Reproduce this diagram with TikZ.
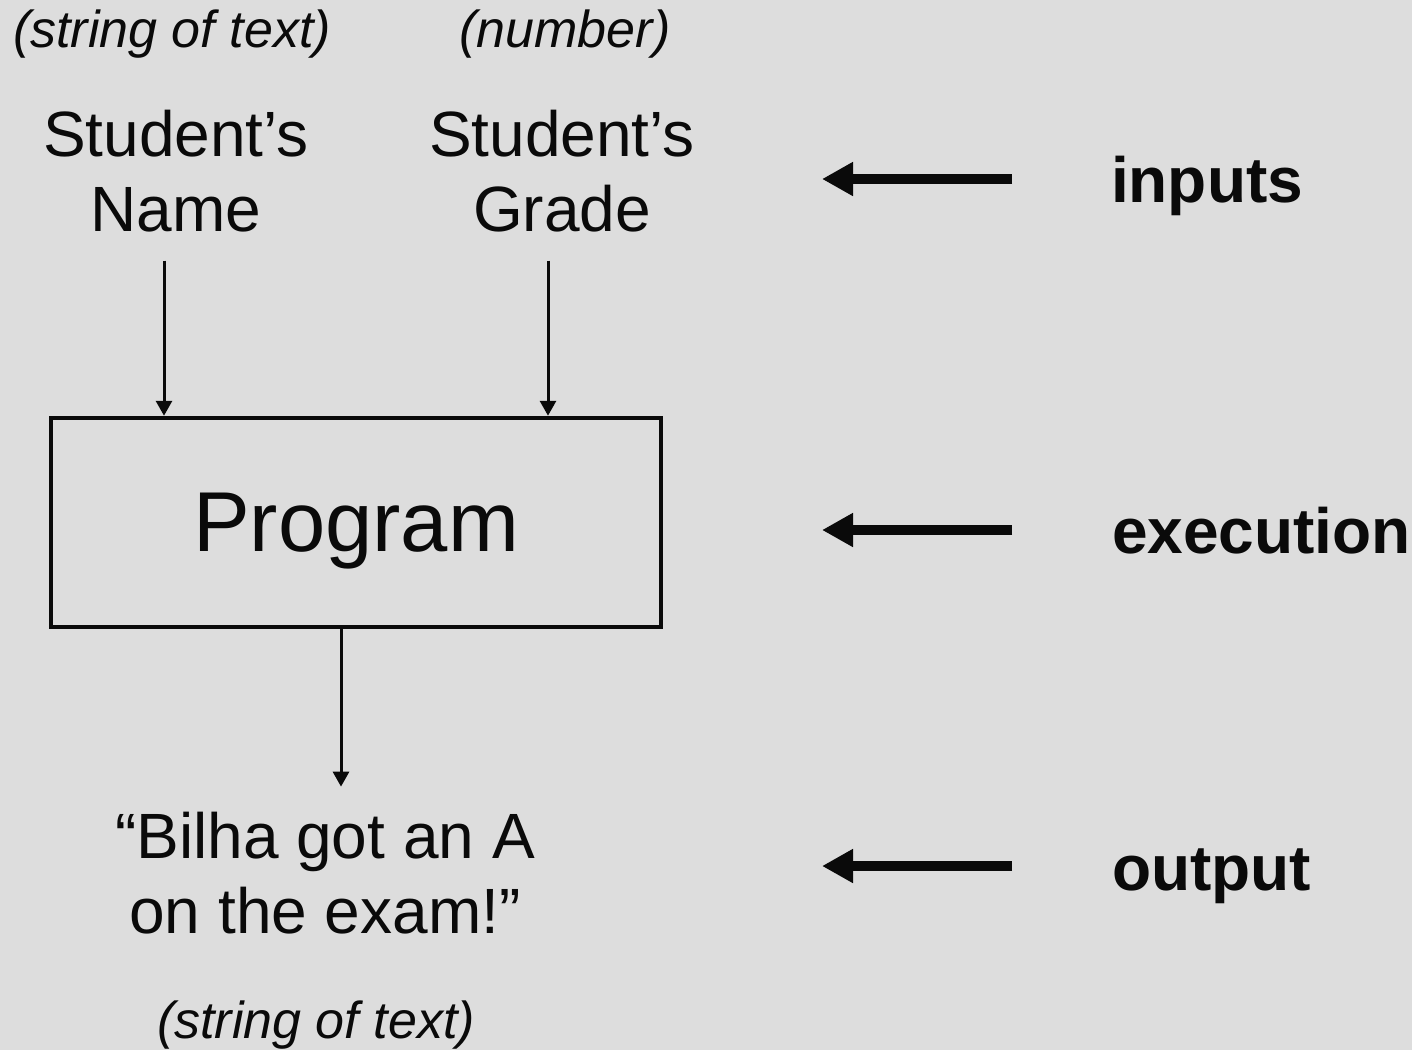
\documentclass[tikz,border=0pt]{standalone}
\usepackage{fontspec}
\setmainfont{Liberation Sans}
\usetikzlibrary{arrows.meta}
\definecolor{bg}{HTML}{DDDDDD}
\definecolor{ink}{HTML}{0A0A0A}
\begin{document}
\begin{tikzpicture}[x=1pt,y=-1pt,
  lbl/.style={inner sep=0pt, outer sep=0pt, align=center, text=ink, font=\fontsize{64}{75}\selectfont},
  note/.style={inner sep=0pt, outer sep=0pt, anchor=base, text=ink, font=\fontsize{52}{60}\selectfont\itshape},
  side/.style={inner sep=0pt, outer sep=0pt, anchor=base west, text=ink, font=\fontsize{64}{75}\selectfont\bfseries},
  progbox/.style={draw=ink, line width=4.5pt, minimum width=610pt, minimum height=209pt, inner sep=0pt, text depth=0pt, text=ink, font=\fontsize{85}{100}\selectfont},
  flowarrow/.style={draw=ink, line width=3pt, -{Triangle[length=15pt,width=16pt]}},
  bigarrow/.style={draw=ink, line width=10pt, -{Triangle[length=31pt,width=32pt]}},
]
\fill[bg] (0,0) rectangle (1412,1050);
\useasboundingbox (0,0) rectangle (1412,1050);

% top notes
\node[note] (t1) at (172,47) {(string of text)};
\node[note] (t2) at (565,47) {(number)};

% inputs (base anchor = baseline of the last line)
\node[lbl, anchor=base] (name) at (176,231) {Student’s\\Name};
\node[lbl, anchor=base] (grade) at (562,231) {Student’s\\Grade};

% program box
\node[progbox] (prog) at (356,522.5) {Program};

% output
\node[lbl, anchor=base] (out) at (325,933) {“Bilha got an A\\on the exam!”};
\node[note] (b1) at (316,1038) {(string of text)};

% flow arrows
\draw[flowarrow] ([xshift=-12pt,yshift=-29pt]name.south) -- ([xshift=-12pt]name.south |- prog.north);
\draw[flowarrow] ([xshift=-14pt,yshift=-29pt]grade.south) -- ([xshift=-14pt]grade.south |- prog.north);
\draw[flowarrow] ([xshift=-15pt]prog.south) -- ([xshift=-15pt,yshift=25pt]prog.south |- out.north);

% side labels
\node[side] (inputs) at (1111,202) {inputs};
\node[side] (exec) at (1112,553) {execution};
\node[side] (outlbl) at (1112,890) {output};

\coordinate (ai) at (822,179);
\coordinate (ae) at (822,530);
\coordinate (ao) at (822,866);
\draw[bigarrow] ([xshift=190pt]ai) -- (ai);
\draw[bigarrow] ([xshift=190pt]ae) -- (ae);
\draw[bigarrow] ([xshift=190pt]ao) -- (ao);
\end{tikzpicture}
\end{document}
